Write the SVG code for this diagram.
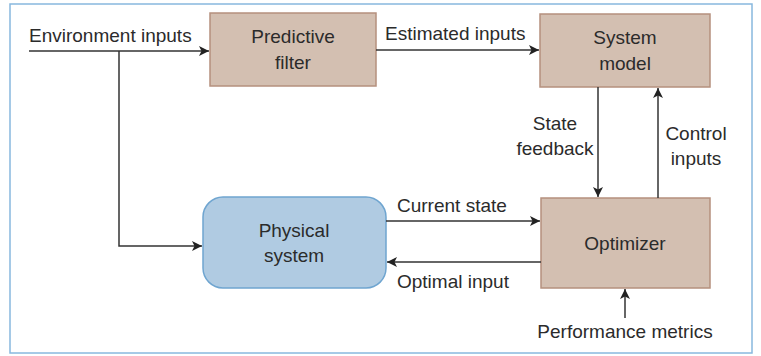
<svg xmlns="http://www.w3.org/2000/svg" width="761" height="356" viewBox="0 0 761 356">
<style>
text{font-family:"Liberation Sans",Arial,sans-serif;font-size:19px;fill:#2b2b2b}
.c{text-anchor:middle}
.box{fill:#d3bfb1;stroke:#b5907e;stroke-width:1.5}
.phys{fill:#b0cbe2;stroke:#6fa5d0;stroke-width:1.5}
.ln{fill:none;stroke:#333;stroke-width:1.5}
</style>
<defs>
<marker id="ah" markerWidth="10" markerHeight="10" refX="10" refY="5" orient="auto" markerUnits="userSpaceOnUse">
<path d="M0,0 L10,5 L0,10 L2.5,5 Z" fill="#222"/>
</marker>
</defs>
<rect x="10" y="4" width="742" height="349" fill="#fff" stroke="#88b8de" stroke-width="1.5"/>
<g id="predictive-filter">
<rect class="box" x="210" y="13" width="166" height="73"/>
<text class="c" x="293" y="43">Predictive</text>
<text class="c" x="293" y="69">filter</text>
</g>
<g id="system-model">
<rect class="box" x="540" y="14" width="170" height="73"/>
<text class="c" x="625" y="44">System</text>
<text class="c" x="625" y="70">model</text>
</g>
<g id="physical-system">
<rect class="phys" x="203" y="197" width="183" height="91" rx="20" ry="20"/>
<text class="c" x="294" y="237">Physical</text>
<text class="c" x="294" y="262">system</text>
</g>
<g id="optimizer">
<rect class="box" x="541" y="198" width="169" height="90"/>
<text class="c" x="625" y="250">Optimizer</text>
</g>
<g id="connectors">
<path class="ln" d="M29,51 H209" marker-end="url(#ah)"/>
<path class="ln" d="M119,51 V246 H202" marker-end="url(#ah)"/>
<path class="ln" d="M376,50 H539" marker-end="url(#ah)"/>
<path class="ln" d="M598,87 V197" marker-end="url(#ah)"/>
<path class="ln" d="M658,198 V88" marker-end="url(#ah)"/>
<path class="ln" d="M386,221 H540" marker-end="url(#ah)"/>
<path class="ln" d="M541,262 H387" marker-end="url(#ah)"/>
<path class="ln" d="M625,318 V289" marker-end="url(#ah)"/>
</g>
<g id="labels">
<text x="29" y="42">Environment inputs</text>
<text x="385" y="40">Estimated inputs</text>
<text class="c" x="555" y="130">State</text>
<text class="c" x="555" y="155">feedback</text>
<text class="c" x="696" y="140">Control</text>
<text class="c" x="696" y="165">inputs</text>
<text x="397" y="212">Current state</text>
<text x="397" y="288">Optimal input</text>
<text class="c" x="625" y="338">Performance metrics</text>
</g>
</svg>
